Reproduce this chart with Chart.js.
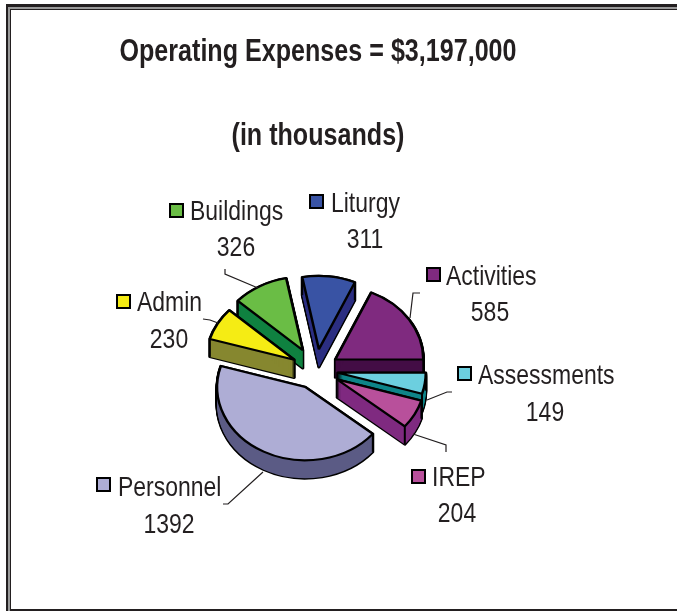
<!DOCTYPE html>
<html>
<head>
<meta charset="utf-8">
<style>html,body{margin:0;padding:0;background:#fff}canvas{display:block}</style>
<script src="https://cdn.jsdelivr.net/npm/chart.js@4/dist/chart.umd.min.js"></script>
</head>
<body>
<canvas id="c" width="677" height="611"></canvas>
<script>
const categories = ['Liturgy','Activities','Assessments','IREP','Personnel','Admin','Buildings'];
const values = [311,585,149,204,1392,230,326];
const titleLines = ['Operating Expenses = $3,197,000','','(in thousands)'];

const topColors  = ['#3953A4','#7F2A7F','#6CCFDF','#B8509B','#AEADD5','#F5EC14','#6ABD45'];
const sideColors = ['#2B2E81','#430D45','#0E8488','#7F2A80','#5B5B85','#86872F','#0F8140'];
const explode    = [25,23,22,24,23,25,27];
const paintOrder = [0,6,1,5,2,3,4];
const PIE = {cx:316, cy:370, sy:0.834, depth:18, radius:88};
const TEXT = {font:'28px "Liberation Sans", Arial, sans-serif', hscale:0.82, color:'#231f20'};
const TITLE_HSCALE = 0.81, TITLE_CX = 318;
// key box x,y ; name left x,y ; value centre x,y
const labelPos = [
  {kx:310,ky:195,nx:331,ny:204,vx:365,vy:240},
  {kx:427,ky:268,nx:446,ny:277,vx:490,vy:313},
  {kx:458,ky:367,nx:478,ny:376,vx:545,vy:413},
  {kx:412,ky:470,nx:432,ny:478,vx:457,vy:514},
  {kx:97,ky:478,nx:118,ny:488,vx:169,vy:525},
  {kx:117,ky:295,nx:137,ny:303,vx:169,vy:340},
  {kx:170,ky:204,nx:190,ny:212,vx:236,vy:248}
];
const leaders = [
  [[420,293],[413,293],[410,318]],
  [[452,392],[447,392],[427,400]],
  [[446,452],[446,445],[413,434]],
  [[223,504],[228,504],[263,472]],
  [[203,319],[210,320],[218,323]],
  [[225,269],[225,274],[258,288]]
];

const frame = {
  id:'frame',
  beforeDraw(chart){
    const c = chart.ctx;
    c.save();
    c.fillStyle='#fff'; c.fillRect(0,0,677,611);
    c.fillStyle='#231f20';
    c.fillRect(6,4,671,3);
    c.fillRect(6,4,2,607);
    c.fillStyle='#9a9a9a';
    c.fillRect(8,7,669,2);
    c.fillRect(8,7,2,604);
    c.fillStyle='#231f20';
    c.fillRect(10,9,667,1);
    c.fillRect(10,9,1,602);
    c.fillRect(10,609,667,2);
    c.restore();
    const t = chart.titleBlock;
    if(t && !t.__narrow){
      const orig = t.draw;
      t.draw = function(){
        const x = this.ctx;
        x.save();
        x.translate(TITLE_CX,0); x.scale(TITLE_HSCALE,1); x.translate(-TITLE_CX,0);
        orig.call(this);
        x.restore();
      };
      t.__narrow = true;
    }
  }
};

function drawArcWith(arc, overrides, ctx){
  const o = arc.options;
  arc.options = Object.assign(Object.create(o), {borderAlign:'center'}, overrides);
  arc.draw(ctx);
  arc.options = o;
}

const pie3d = {
  id:'pie3d',
  beforeDatasetDraw(chart, args){
    const ctx = chart.ctx;
    const arcs = chart.getDatasetMeta(args.index).data;
    paintOrder.forEach(i=>{
      const arc = arcs[i];
      const mid = (arc.startAngle+arc.endAngle)/2;
      const k = explode[i];
      const at = (dy,fn)=>{
        ctx.save();
        ctx.translate(PIE.cx,PIE.cy+dy);
        ctx.scale(1,PIE.sy);
        ctx.translate(-arc.x,-arc.y);
        ctx.translate(Math.cos(mid)*k,Math.sin(mid)*k);
        fn();
        ctx.restore();
      };
      for(let d=0;d<=PIE.depth;d++) at(d,()=>drawArcWith(arc,{backgroundColor:'#000',borderColor:'#000',borderWidth:3,borderJoinStyle:'round'},ctx));
      for(let d=1;d<=PIE.depth;d++) at(d,()=>drawArcWith(arc,{backgroundColor:sideColors[i],borderColor:sideColors[i],borderWidth:0},ctx));
      ctx.save();
      ctx.strokeStyle='#000'; ctx.lineWidth=2;
      [arc.startAngle,arc.endAngle].forEach(a=>{
        const x = PIE.cx+Math.cos(a)*arc.outerRadius+Math.cos(mid)*k;
        const y = PIE.cy+PIE.sy*(Math.sin(a)*arc.outerRadius+Math.sin(mid)*k);
        ctx.beginPath(); ctx.moveTo(x,y); ctx.lineTo(x,y+PIE.depth); ctx.stroke();
      });
      ctx.restore();
      at(0,()=>drawArcWith(arc,{backgroundColor:topColors[i],borderColor:'#000',borderWidth:2.5,borderJoinStyle:'bevel'},ctx));
    });
    return false;
  },
  afterDraw(chart){
    const c = chart.ctx;
    c.save();
    c.strokeStyle='#231f20'; c.lineWidth=1.2;
    leaders.forEach(p=>{
      c.beginPath();
      p.forEach((q,j)=> j?c.lineTo(q[0],q[1]):c.moveTo(q[0],q[1]));
      c.stroke();
    });
    c.font=TEXT.font; c.fillStyle=TEXT.color; c.textBaseline='middle';
    const put=(t,x,y,align)=>{
      c.save(); c.translate(x,y); c.scale(TEXT.hscale,1); c.textAlign=align; c.fillStyle=TEXT.color; c.fillText(t,0,0); c.restore();
    };
    categories.forEach((name,i)=>{
      const p=labelPos[i];
      c.fillStyle=topColors[i]; c.fillRect(p.kx,p.ky,13,13);
      c.strokeStyle='#000'; c.lineWidth=2; c.strokeRect(p.kx,p.ky,13,13);
      put(name,p.nx,p.ny,'left');
      put(String(values[i]),p.vx,p.vy,'center');
    });
    c.restore();
  }
};

new Chart(document.getElementById('c'),{
  type:'pie',
  data:{labels:categories,datasets:[{data:values,backgroundColor:topColors,borderColor:'#000',borderWidth:2.5}]},
  options:{
    responsive:false,animation:false,
    rotation:-10.9,radius:PIE.radius,
    layout:{padding:{left:0,right:41,top:0,bottom:30}},
    plugins:{
      legend:{display:false},tooltip:{enabled:false},
      title:{display:true,text:titleLines,color:'#231f20',
        font:{family:'"Liberation Sans", Arial, sans-serif',size:31,weight:'bold',lineHeight:1.355},
        padding:{top:31,bottom:0}}
    }
  },
  plugins:[frame,pie3d]
});
</script>
</body>
</html>
